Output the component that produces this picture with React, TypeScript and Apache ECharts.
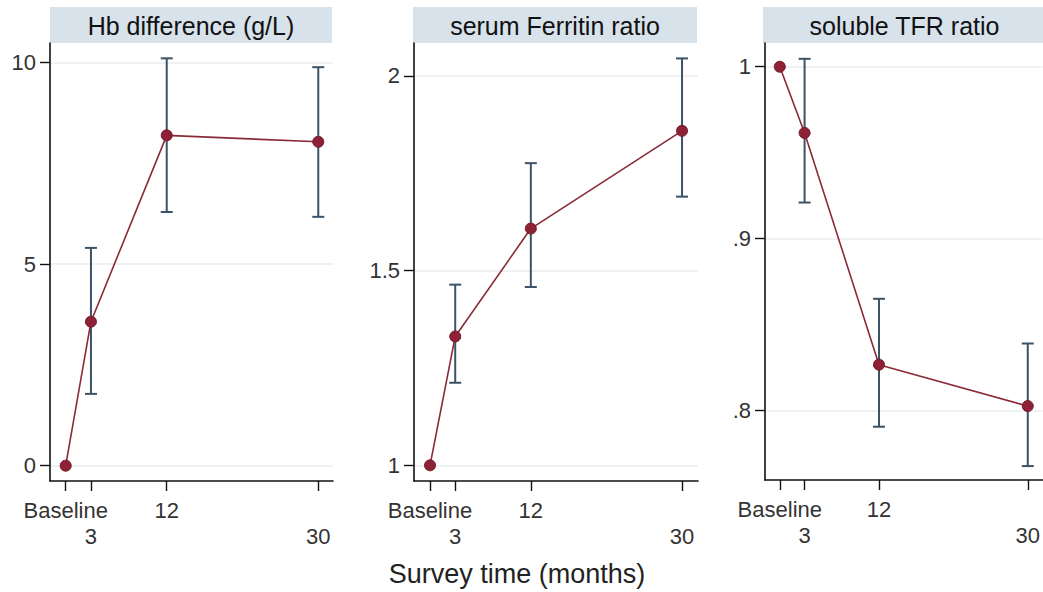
import React, { useEffect, useRef } from "react";
import * as echarts from "echarts";

// ---- data ----
const months = [0, 3, 12, 30];
const monthTickValues = [0, 3, 12, 30];
const monthTickLabels = ["Baseline", "3", "12", "30"];
const monthTickRow = [0, 1, 0, 1]; // label on first or second text line

const hbMean = [0, 3.57, 8.19, 8.03];
const hbLow = [null, 1.78, 6.29, 6.17];
const hbHigh = [null, 5.4, 10.1, 9.88];
const hbTicks = [0, 5, 10];

const ferritinMean = [1, 1.331, 1.608, 1.859];
const ferritinLow = [null, 1.212, 1.458, 1.69];
const ferritinHigh = [null, 1.464, 1.776, 2.045];
const ferritinTicks = [1, 1.5, 2];

const tfrMean = [1, 0.9615, 0.8267, 0.8026];
const tfrLow = [null, 0.921, 0.7906, 0.7677];
const tfrHigh = [null, 1.0046, 0.865, 0.839];
const tfrTicks = [0.8, 0.9, 1];

const panelTitles = ["Hb difference (g/L)", "serum Ferritin ratio", "soluble TFR ratio"];
const xAxisTitle = "Survey time (months)";

const FONT = "'Liberation Sans', Arial, Helvetica, sans-serif";
const LINE_COLOR = "#8a2a37";
const MARKER_COLOR = "#8f2136";
const ERR_COLOR = "#3c5266";
const STRIP_COLOR = "#d7e2eb";

function xLabel(v: number): string {
  const k = monthTickValues.indexOf(v);
  return k >= 0 ? monthTickLabels[k] : "";
}

export default function App() {
  const ref = useRef<HTMLDivElement>(null);

  useEffect(() => {
    document.body.style.margin = "0";
    if (!ref.current) return;
    const chart = echarts.init(ref.current, undefined, { renderer: "svg" });

    const grids = [
      { left: 50, top: 43, width: 283, height: 438 },
      { left: 414, top: 43, width: 284, height: 438 },
      { left: 765, top: 43, width: 283, height: 437 },
    ];
    const xRanges = [
      [-1.865, 31.75],
      [-1.907, 31.9],
      [-1.79, 31.8],
    ];
    const yRanges = [
      [-0.38, 10.48],
      [0.9597, 2.0846],
      [0.7596, 1.0138],
    ];
    const yTickSets = [hbTicks, ferritinTicks, tfrTicks];
    const yFormat = [
      (v: number) => String(v),
      (v: number) => String(v),
      (v: number) => (v === 1 ? "1" : String(v).replace(/^0/, "")),
    ];
    const means = [hbMean, ferritinMean, tfrMean];
    const lows = [hbLow, ferritinLow, tfrLow];
    const highs = [hbHigh, ferritinHigh, tfrHigh];

    const rowValues = [0, 1].map((r) => monthTickValues.filter((_, k) => monthTickRow[k] === r));

    const xAxes: any[] = [];
    grids.forEach((_, i) => {
      [0, 1].forEach((r) => {
        xAxes.push({
          type: "value",
          gridIndex: i,
          position: "bottom",
          min: xRanges[i][0],
          max: xRanges[i][1],
          axisLine: { show: r === 0, onZero: false, lineStyle: { color: "#111", width: 1.6 } },
          axisTick: {
            show: true,
            customValues: rowValues[r],
            length: 10,
            lineStyle: { color: "#111", width: 1.4 },
          },
          axisLabel: {
            show: true,
            customValues: rowValues[r],
            formatter: xLabel,
            showMinLabel: true,
            showMaxLabel: true,
            fontSize: 22,
            margin: r === 0 ? 18 : 44,
            color: "#333",
            fontFamily: FONT,
            hideOverlap: false,
          },
          splitLine: { show: false },
        });
      });
    });

    const yAxes = grids.map((_, i) => ({
      type: "value",
      gridIndex: i,
      min: yRanges[i][0],
      max: yRanges[i][1],
      axisLine: { show: true, onZero: false, lineStyle: { color: "#111", width: 1.6 } },
      axisTick: {
        show: true,
        customValues: yTickSets[i],
        length: 10,
        lineStyle: { color: "#111", width: 1.4 },
      },
      axisLabel: {
        show: true,
        customValues: yTickSets[i],
        formatter: yFormat[i],
        showMinLabel: true,
        showMaxLabel: true,
        fontSize: 22,
        margin: 14,
        color: "#333",
        fontFamily: FONT,
      },
      splitLine: { show: true, lineStyle: { color: "#eaeef1", width: 1.5 } },
    }));

    const series: any[] = [];
    grids.forEach((_, i) => {
      const errData = months
        .map((m, k) => [m, lows[i][k], highs[i][k]])
        .filter((d) => d[1] !== null && d[2] !== null);
      series.push({
        type: "custom",
        xAxisIndex: 2 * i,
        yAxisIndex: i,
        z: 2,
        data: errData,
        renderItem: (params: any, api: any) => {
          const x = api.value(0);
          const pLo = api.coord([x, api.value(1)]);
          const pHi = api.coord([x, api.value(2)]);
          const w = 6;
          const style = { stroke: ERR_COLOR, lineWidth: 2 };
          return {
            type: "group",
            children: [
              { type: "line", shape: { x1: pLo[0], y1: pLo[1], x2: pHi[0], y2: pHi[1] }, style },
              { type: "line", shape: { x1: pLo[0] - w, y1: pLo[1], x2: pLo[0] + w, y2: pLo[1] }, style },
              { type: "line", shape: { x1: pHi[0] - w, y1: pHi[1], x2: pHi[0] + w, y2: pHi[1] }, style },
            ],
          };
        },
      });
      series.push({
        type: "line",
        xAxisIndex: 2 * i,
        yAxisIndex: i,
        z: 3,
        data: months.map((m, k) => [m, means[i][k]]),
        symbol: "circle",
        symbolSize: 11,
        itemStyle: { color: MARKER_COLOR, borderColor: "#741a2a", borderWidth: 1 },
        lineStyle: { color: LINE_COLOR, width: 1.6 },
      });
    });

    const stripX = [50, 413, 763];
    const stripW = [282, 284, 283];
    const graphics: any[] = [];
    panelTitles.forEach((t, i) => {
      graphics.push({
        type: "rect",
        shape: { x: stripX[i], y: 7, width: stripW[i], height: 36 },
        style: { fill: STRIP_COLOR },
        z: -1,
      });
      graphics.push({
        type: "text",
        x: stripX[i] + stripW[i] / 2,
        y: 26,
        style: {
          text: t,
          fontSize: 25,
          fontFamily: FONT,
          fill: "#111",
          textAlign: "center",
          textVerticalAlign: "middle",
        },
      });
    });
    graphics.push({
      type: "text",
      x: 517,
      y: 574,
      style: {
        text: xAxisTitle,
        fontSize: 27,
        fontFamily: FONT,
        fill: "#222",
        textAlign: "center",
        textVerticalAlign: "middle",
      },
    });

    chart.setOption({
      animation: false,
      backgroundColor: "#fff",
      grid: grids,
      xAxis: xAxes,
      yAxis: yAxes,
      series,
      graphic: graphics,
    });

    return () => chart.dispose();
  }, []);

  return <div ref={ref} style={{ width: 1043, height: 592 }} />;
}
